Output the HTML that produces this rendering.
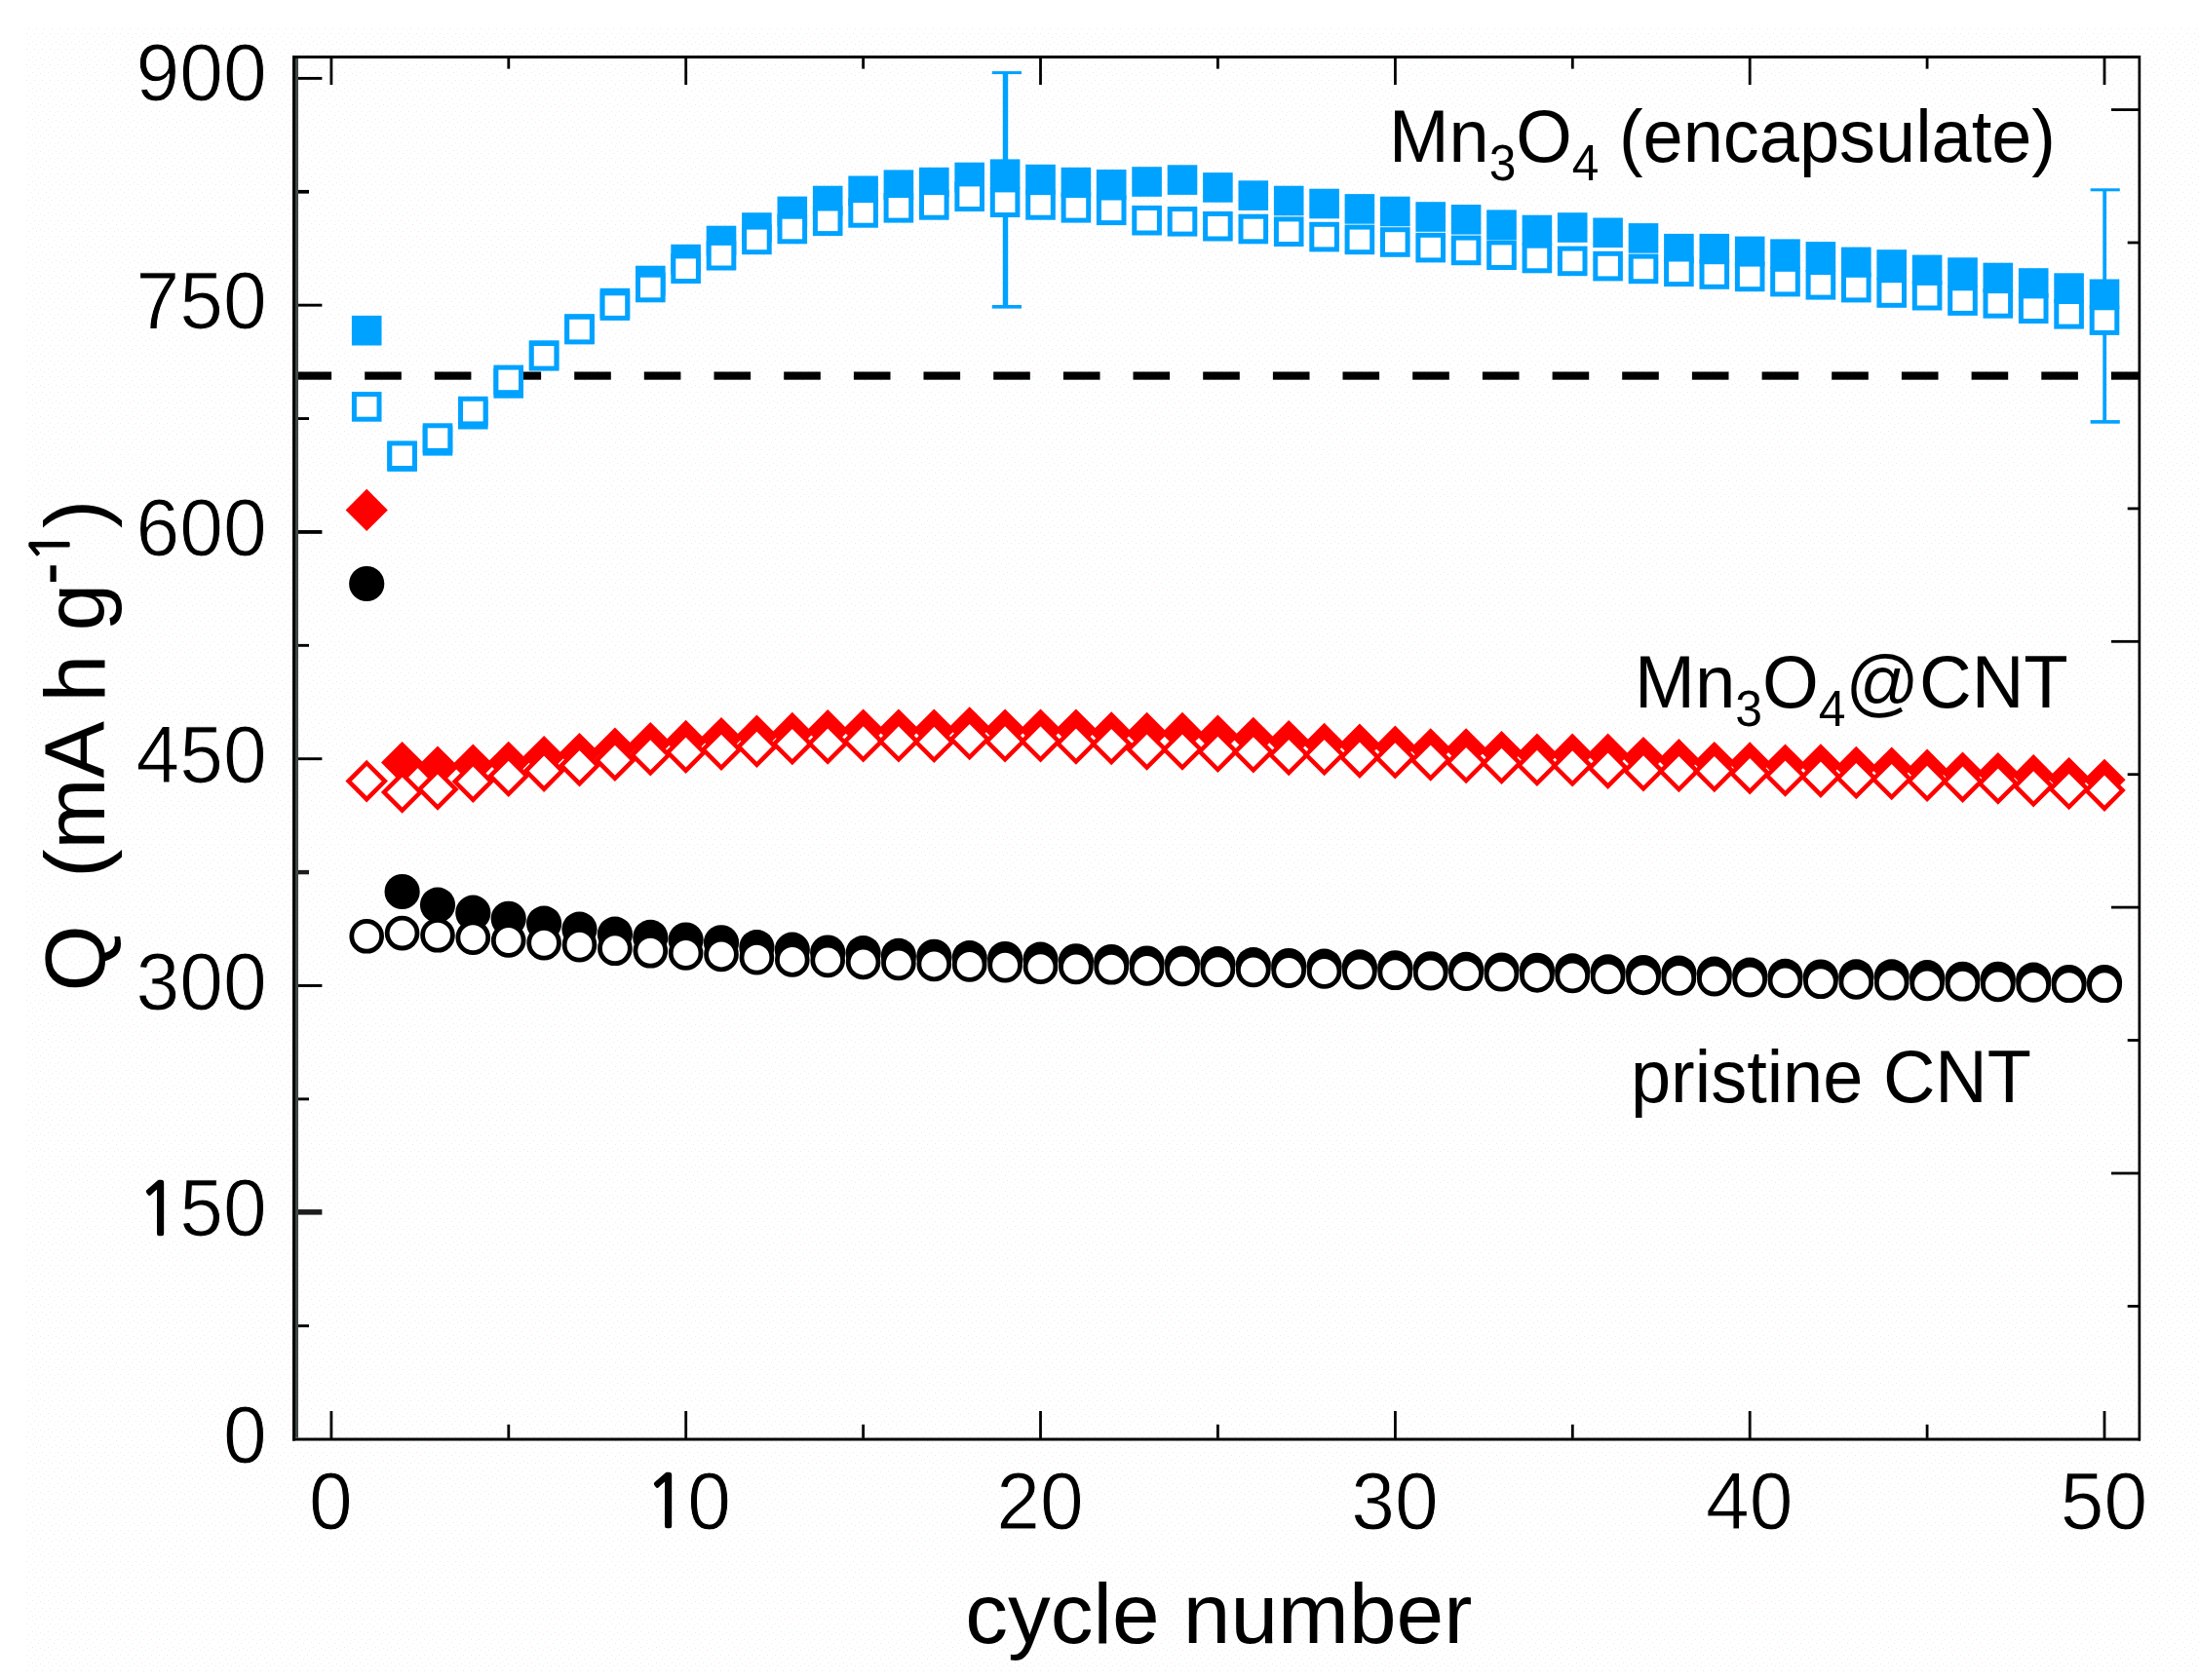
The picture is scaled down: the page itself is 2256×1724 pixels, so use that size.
<!DOCTYPE html>
<html lang="en"><head><meta charset="utf-8"><title>Cycling performance</title>
<style>html,body{margin:0;padding:0;background:#fff}body{width:2256px;height:1724px;overflow:hidden}svg{display:block}text{font-family:"Liberation Sans",Arial,Helvetica,sans-serif;fill:#000}.nan{font-family:"NanumGothic","Liberation Sans",sans-serif}</style></head><body>
<svg width="2256" height="1724" viewBox="0 0 2256 1724">
<defs><pattern id="dz" x="27" y="29" width="16" height="16" patternUnits="userSpaceOnUse"><rect x="2" y="0" width="1" height="1" fill="#f9e6e6"/><rect x="10" y="0" width="1" height="1" fill="#f9e6e6"/><rect x="6" y="2" width="1" height="1" fill="#e0ffff"/><rect x="0" y="5" width="1" height="1" fill="#f9e6e6"/><rect x="8" y="5" width="1" height="1" fill="#f9e6e6"/><rect x="13" y="6" width="1" height="1" fill="#e0ffff"/><rect x="4" y="8" width="1" height="1" fill="#f9e6e6"/><rect x="12" y="9" width="1" height="1" fill="#f9e6e6"/><rect x="1" y="11" width="1" height="1" fill="#e0ffff"/><rect x="9" y="12" width="1" height="1" fill="#e0ffff"/><rect x="6" y="13" width="1" height="1" fill="#f9e6e6"/><rect x="14" y="14" width="1" height="1" fill="#f9e6e6"/></pattern></defs>
<rect x="0" y="0" width="2256" height="1724" fill="#ffffff"/>
<rect x="27" y="29" width="2229" height="1686" fill="url(#dz)"/>
<g id="refline" fill="#000">
<rect x="302.5" y="381.5" width="37.6" height="8.2"/>
<rect x="374.2" y="381.5" width="37.6" height="8.2"/>
<rect x="445.8" y="381.5" width="37.6" height="8.2"/>
<rect x="517.5" y="381.5" width="37.6" height="8.2"/>
<rect x="589.2" y="381.5" width="37.6" height="8.2"/>
<rect x="660.8" y="381.5" width="37.6" height="8.2"/>
<rect x="732.5" y="381.5" width="37.6" height="8.2"/>
<rect x="804.2" y="381.5" width="37.6" height="8.2"/>
<rect x="875.9" y="381.5" width="37.6" height="8.2"/>
<rect x="947.5" y="381.5" width="37.6" height="8.2"/>
<rect x="1019.2" y="381.5" width="37.6" height="8.2"/>
<rect x="1090.9" y="381.5" width="37.6" height="8.2"/>
<rect x="1162.5" y="381.5" width="37.6" height="8.2"/>
<rect x="1234.2" y="381.5" width="37.6" height="8.2"/>
<rect x="1305.9" y="381.5" width="37.6" height="8.2"/>
<rect x="1377.5" y="381.5" width="37.6" height="8.2"/>
<rect x="1449.2" y="381.5" width="37.6" height="8.2"/>
<rect x="1520.9" y="381.5" width="37.6" height="8.2"/>
<rect x="1592.6" y="381.5" width="37.6" height="8.2"/>
<rect x="1664.2" y="381.5" width="37.6" height="8.2"/>
<rect x="1735.9" y="381.5" width="37.6" height="8.2"/>
<rect x="1807.6" y="381.5" width="37.6" height="8.2"/>
<rect x="1879.2" y="381.5" width="37.6" height="8.2"/>
<rect x="1950.9" y="381.5" width="37.6" height="8.2"/>
<rect x="2022.6" y="381.5" width="37.6" height="8.2"/>
<rect x="2094.3" y="381.5" width="37.6" height="8.2"/>
<rect x="2165.9" y="381.5" width="28.1" height="8.2"/>
</g>
<g id="cnt-filled" fill="#000">
<circle cx="376.2" cy="599.0" r="18.1"/>
<circle cx="412.6" cy="915.0" r="18.1"/>
<circle cx="449.0" cy="928.6" r="18.1"/>
<circle cx="485.3" cy="936.7" r="18.1"/>
<circle cx="521.7" cy="942.8" r="18.1"/>
<circle cx="558.1" cy="947.6" r="18.1"/>
<circle cx="594.5" cy="953.6" r="18.1"/>
<circle cx="630.9" cy="958.6" r="18.1"/>
<circle cx="667.3" cy="961.9" r="18.1"/>
<circle cx="703.6" cy="964.5" r="18.1"/>
<circle cx="740.0" cy="967.3" r="18.1"/>
<circle cx="776.4" cy="972.1" r="18.1"/>
<circle cx="812.8" cy="974.7" r="18.1"/>
<circle cx="849.2" cy="977.5" r="18.1"/>
<circle cx="885.6" cy="978.1" r="18.1"/>
<circle cx="921.9" cy="980.9" r="18.1"/>
<circle cx="958.3" cy="981.8" r="18.1"/>
<circle cx="994.7" cy="983.1" r="18.1"/>
<circle cx="1031.1" cy="984.0" r="18.1"/>
<circle cx="1067.5" cy="984.6" r="18.1"/>
<circle cx="1103.9" cy="986.3" r="18.1"/>
<circle cx="1140.2" cy="987.0" r="18.1"/>
<circle cx="1176.6" cy="988.5" r="18.1"/>
<circle cx="1213.0" cy="988.5" r="18.1"/>
<circle cx="1249.4" cy="989.2" r="18.1"/>
<circle cx="1285.8" cy="990.1" r="18.1"/>
<circle cx="1322.2" cy="991.0" r="18.1"/>
<circle cx="1358.6" cy="991.6" r="18.1"/>
<circle cx="1394.9" cy="992.4" r="18.1"/>
<circle cx="1431.3" cy="993.3" r="18.1"/>
<circle cx="1467.7" cy="994.3" r="18.1"/>
<circle cx="1504.1" cy="994.9" r="18.1"/>
<circle cx="1540.5" cy="995.5" r="18.1"/>
<circle cx="1576.9" cy="995.8" r="18.1"/>
<circle cx="1613.2" cy="996.4" r="18.1"/>
<circle cx="1649.6" cy="997.4" r="18.1"/>
<circle cx="1686.0" cy="998.0" r="18.1"/>
<circle cx="1722.4" cy="998.6" r="18.1"/>
<circle cx="1758.8" cy="999.7" r="18.1"/>
<circle cx="1795.2" cy="1000.6" r="18.1"/>
<circle cx="1831.5" cy="1001.9" r="18.1"/>
<circle cx="1867.9" cy="1002.5" r="18.1"/>
<circle cx="1904.3" cy="1002.4" r="18.1"/>
<circle cx="1940.7" cy="1002.4" r="18.1"/>
<circle cx="1977.1" cy="1003.2" r="18.1"/>
<circle cx="2013.5" cy="1004.8" r="18.1"/>
<circle cx="2049.8" cy="1004.8" r="18.1"/>
<circle cx="2086.2" cy="1005.6" r="18.1"/>
<circle cx="2122.6" cy="1008.0" r="18.1"/>
<circle cx="2159.0" cy="1008.0" r="18.1"/>
</g><g id="cnt-open" fill="#fff" stroke="#000" stroke-width="4.8">
<circle cx="376.2" cy="960.8" r="15.4"/>
<circle cx="412.6" cy="957.6" r="15.4"/>
<circle cx="449.0" cy="959.8" r="15.4"/>
<circle cx="485.3" cy="962.2" r="15.4"/>
<circle cx="521.7" cy="965.0" r="15.4"/>
<circle cx="558.1" cy="967.7" r="15.4"/>
<circle cx="594.5" cy="969.7" r="15.4"/>
<circle cx="630.9" cy="973.3" r="15.4"/>
<circle cx="667.3" cy="975.8" r="15.4"/>
<circle cx="703.6" cy="978.0" r="15.4"/>
<circle cx="740.0" cy="979.4" r="15.4"/>
<circle cx="776.4" cy="982.7" r="15.4"/>
<circle cx="812.8" cy="984.9" r="15.4"/>
<circle cx="849.2" cy="985.5" r="15.4"/>
<circle cx="885.6" cy="987.4" r="15.4"/>
<circle cx="921.9" cy="988.5" r="15.4"/>
<circle cx="958.3" cy="989.4" r="15.4"/>
<circle cx="994.7" cy="990.0" r="15.4"/>
<circle cx="1031.1" cy="990.7" r="15.4"/>
<circle cx="1067.5" cy="992.2" r="15.4"/>
<circle cx="1103.9" cy="992.5" r="15.4"/>
<circle cx="1140.2" cy="992.8" r="15.4"/>
<circle cx="1176.6" cy="993.9" r="15.4"/>
<circle cx="1213.0" cy="994.5" r="15.4"/>
<circle cx="1249.4" cy="995.2" r="15.4"/>
<circle cx="1285.8" cy="995.5" r="15.4"/>
<circle cx="1322.2" cy="996.1" r="15.4"/>
<circle cx="1358.6" cy="997.0" r="15.4"/>
<circle cx="1394.9" cy="997.6" r="15.4"/>
<circle cx="1431.3" cy="998.3" r="15.4"/>
<circle cx="1467.7" cy="998.6" r="15.4"/>
<circle cx="1504.1" cy="999.2" r="15.4"/>
<circle cx="1540.5" cy="999.8" r="15.4"/>
<circle cx="1576.9" cy="1000.9" r="15.4"/>
<circle cx="1613.2" cy="1001.5" r="15.4"/>
<circle cx="1649.6" cy="1002.5" r="15.4"/>
<circle cx="1686.0" cy="1003.4" r="15.4"/>
<circle cx="1722.4" cy="1004.0" r="15.4"/>
<circle cx="1758.8" cy="1004.6" r="15.4"/>
<circle cx="1795.2" cy="1005.6" r="15.4"/>
<circle cx="1831.5" cy="1006.5" r="15.4"/>
<circle cx="1867.9" cy="1007.3" r="15.4"/>
<circle cx="1904.3" cy="1007.9" r="15.4"/>
<circle cx="1940.7" cy="1008.8" r="15.4"/>
<circle cx="1977.1" cy="1009.4" r="15.4"/>
<circle cx="2013.5" cy="1009.8" r="15.4"/>
<circle cx="2049.8" cy="1010.4" r="15.4"/>
<circle cx="2086.2" cy="1011.0" r="15.4"/>
<circle cx="2122.6" cy="1011.3" r="15.4"/>
<circle cx="2159.0" cy="1011.3" r="15.4"/>
</g>
<g id="mn-cnt-filled" fill="#ff0000">
<path d="M376.2 501.8L397.8 523.4L376.2 545.0L354.6 523.4Z"/>
<path d="M412.6 761.0L434.2 782.6L412.6 804.2L391.0 782.6Z"/>
<path d="M449.0 765.5L470.6 787.1L449.0 808.7L427.4 787.1Z"/>
<path d="M485.3 763.4L506.9 785.0L485.3 806.6L463.7 785.0Z"/>
<path d="M521.7 760.7L543.3 782.3L521.7 803.9L500.1 782.3Z"/>
<path d="M558.1 755.0L579.7 776.6L558.1 798.2L536.5 776.6Z"/>
<path d="M594.5 751.9L616.1 773.5L594.5 795.1L572.9 773.5Z"/>
<path d="M630.9 746.4L652.5 768.0L630.9 789.6L609.3 768.0Z"/>
<path d="M667.3 741.0L688.9 762.6L667.3 784.2L645.7 762.6Z"/>
<path d="M703.6 738.8L725.2 760.4L703.6 782.0L682.0 760.4Z"/>
<path d="M740.0 735.9L761.6 757.5L740.0 779.1L718.4 757.5Z"/>
<path d="M776.4 733.5L798.0 755.1L776.4 776.7L754.8 755.1Z"/>
<path d="M812.8 730.8L834.4 752.4L812.8 774.0L791.2 752.4Z"/>
<path d="M849.2 728.1L870.8 749.7L849.2 771.3L827.6 749.7Z"/>
<path d="M885.6 727.5L907.2 749.1L885.6 770.7L864.0 749.1Z"/>
<path d="M921.9 727.5L943.5 749.1L921.9 770.7L900.3 749.1Z"/>
<path d="M958.3 727.5L979.9 749.1L958.3 770.7L936.7 749.1Z"/>
<path d="M994.7 725.2L1016.3 746.8L994.7 768.4L973.1 746.8Z"/>
<path d="M1031.1 727.5L1052.7 749.1L1031.1 770.7L1009.5 749.1Z"/>
<path d="M1067.5 727.5L1089.1 749.1L1067.5 770.7L1045.9 749.1Z"/>
<path d="M1103.9 727.5L1125.5 749.1L1103.9 770.7L1082.3 749.1Z"/>
<path d="M1140.2 730.3L1161.8 751.9L1140.2 773.5L1118.6 751.9Z"/>
<path d="M1176.6 730.8L1198.2 752.4L1176.6 774.0L1155.0 752.4Z"/>
<path d="M1213.0 730.8L1234.6 752.4L1213.0 774.0L1191.4 752.4Z"/>
<path d="M1249.4 733.5L1271.0 755.1L1249.4 776.7L1227.8 755.1Z"/>
<path d="M1285.8 735.7L1307.4 757.3L1285.8 778.9L1264.2 757.3Z"/>
<path d="M1322.2 739.0L1343.8 760.6L1322.2 782.2L1300.6 760.6Z"/>
<path d="M1358.6 741.8L1380.2 763.4L1358.6 785.0L1337.0 763.4Z"/>
<path d="M1394.9 742.6L1416.5 764.2L1394.9 785.8L1373.3 764.2Z"/>
<path d="M1431.3 744.6L1452.9 766.2L1431.3 787.8L1409.7 766.2Z"/>
<path d="M1467.7 747.2L1489.3 768.8L1467.7 790.4L1446.1 768.8Z"/>
<path d="M1504.1 747.2L1525.7 768.8L1504.1 790.4L1482.5 768.8Z"/>
<path d="M1540.5 750.0L1562.1 771.6L1540.5 793.2L1518.9 771.6Z"/>
<path d="M1576.9 752.6L1598.5 774.2L1576.9 795.8L1555.3 774.2Z"/>
<path d="M1613.2 752.6L1634.8 774.2L1613.2 795.8L1591.6 774.2Z"/>
<path d="M1649.6 752.6L1671.2 774.2L1649.6 795.8L1628.0 774.2Z"/>
<path d="M1686.0 755.9L1707.6 777.5L1686.0 799.1L1664.4 777.5Z"/>
<path d="M1722.4 758.1L1744.0 779.7L1722.4 801.3L1700.8 779.7Z"/>
<path d="M1758.8 760.9L1780.4 782.5L1758.8 804.1L1737.2 782.5Z"/>
<path d="M1795.2 761.3L1816.8 782.9L1795.2 804.5L1773.6 782.9Z"/>
<path d="M1831.5 763.4L1853.1 785.0L1831.5 806.6L1809.9 785.0Z"/>
<path d="M1867.9 763.2L1889.5 784.8L1867.9 806.4L1846.3 784.8Z"/>
<path d="M1904.3 765.8L1925.9 787.4L1904.3 809.0L1882.7 787.4Z"/>
<path d="M1940.7 766.5L1962.3 788.1L1940.7 809.7L1919.1 788.1Z"/>
<path d="M1977.1 768.6L1998.7 790.2L1977.1 811.8L1955.5 790.2Z"/>
<path d="M2013.5 771.4L2035.1 793.0L2013.5 814.6L1991.9 793.0Z"/>
<path d="M2049.8 771.9L2071.4 793.5L2049.8 815.1L2028.2 793.5Z"/>
<path d="M2086.2 774.1L2107.8 795.7L2086.2 817.3L2064.6 795.7Z"/>
<path d="M2122.6 776.9L2144.2 798.5L2122.6 820.1L2101.0 798.5Z"/>
<path d="M2159.0 778.7L2180.6 800.3L2159.0 821.9L2137.4 800.3Z"/>
</g><g id="mn-cnt-open" fill="#fff" stroke="#ff0000" stroke-width="4.5" stroke-linejoin="miter">
<path d="M376.2 783.0L394.8 801.6L376.2 820.2L357.6 801.6Z"/>
<path d="M412.6 794.4L431.2 813.0L412.6 831.6L394.0 813.0Z"/>
<path d="M449.0 791.3L467.6 809.9L449.0 828.5L430.4 809.9Z"/>
<path d="M485.3 783.5L503.9 802.1L485.3 820.7L466.7 802.1Z"/>
<path d="M521.7 777.6L540.3 796.2L521.7 814.8L503.1 796.2Z"/>
<path d="M558.1 772.5L576.7 791.1L558.1 809.7L539.5 791.1Z"/>
<path d="M594.5 767.0L613.1 785.6L594.5 804.2L575.9 785.6Z"/>
<path d="M630.9 761.6L649.5 780.2L630.9 798.8L612.3 780.2Z"/>
<path d="M667.3 756.2L685.9 774.8L667.3 793.4L648.7 774.8Z"/>
<path d="M703.6 753.5L722.2 772.1L703.6 790.7L685.0 772.1Z"/>
<path d="M740.0 750.6L758.6 769.2L740.0 787.8L721.4 769.2Z"/>
<path d="M776.4 747.6L795.0 766.2L776.4 784.8L757.8 766.2Z"/>
<path d="M812.8 744.8L831.4 763.4L812.8 782.0L794.2 763.4Z"/>
<path d="M849.2 744.4L867.8 763.0L849.2 781.6L830.6 763.0Z"/>
<path d="M885.6 742.2L904.2 760.8L885.6 779.4L867.0 760.8Z"/>
<path d="M921.9 742.2L940.5 760.8L921.9 779.4L903.3 760.8Z"/>
<path d="M958.3 742.7L976.9 761.3L958.3 779.9L939.7 761.3Z"/>
<path d="M994.7 739.9L1013.3 758.5L994.7 777.1L976.1 758.5Z"/>
<path d="M1031.1 742.2L1049.7 760.8L1031.1 779.4L1012.5 760.8Z"/>
<path d="M1067.5 742.2L1086.1 760.8L1067.5 779.4L1048.9 760.8Z"/>
<path d="M1103.9 744.4L1122.5 763.0L1103.9 781.6L1085.3 763.0Z"/>
<path d="M1140.2 744.8L1158.8 763.4L1140.2 782.0L1121.6 763.4Z"/>
<path d="M1176.6 750.4L1195.2 769.0L1176.6 787.6L1158.0 769.0Z"/>
<path d="M1213.0 750.4L1231.6 769.0L1213.0 787.6L1194.4 769.0Z"/>
<path d="M1249.4 752.6L1268.0 771.2L1249.4 789.8L1230.8 771.2Z"/>
<path d="M1285.8 753.1L1304.4 771.7L1285.8 790.3L1267.2 771.7Z"/>
<path d="M1322.2 755.9L1340.8 774.5L1322.2 793.1L1303.6 774.5Z"/>
<path d="M1358.6 755.9L1377.2 774.5L1358.6 793.1L1340.0 774.5Z"/>
<path d="M1394.9 758.5L1413.5 777.1L1394.9 795.7L1376.3 777.1Z"/>
<path d="M1431.3 759.1L1449.9 777.7L1431.3 796.3L1412.7 777.7Z"/>
<path d="M1467.7 761.3L1486.3 779.9L1467.7 798.5L1449.1 779.9Z"/>
<path d="M1504.1 763.9L1522.7 782.5L1504.1 801.1L1485.5 782.5Z"/>
<path d="M1540.5 764.6L1559.1 783.2L1540.5 801.8L1521.9 783.2Z"/>
<path d="M1576.9 766.7L1595.5 785.3L1576.9 803.9L1558.3 785.3Z"/>
<path d="M1613.2 767.2L1631.8 785.8L1613.2 804.4L1594.6 785.8Z"/>
<path d="M1649.6 769.5L1668.2 788.1L1649.6 806.7L1631.0 788.1Z"/>
<path d="M1686.0 772.2L1704.6 790.8L1686.0 809.4L1667.4 790.8Z"/>
<path d="M1722.4 772.8L1741.0 791.4L1722.4 810.0L1703.8 791.4Z"/>
<path d="M1758.8 772.8L1777.4 791.4L1758.8 810.0L1740.2 791.4Z"/>
<path d="M1795.2 775.0L1813.8 793.6L1795.2 812.2L1776.6 793.6Z"/>
<path d="M1831.5 777.4L1850.1 796.0L1831.5 814.6L1812.9 796.0Z"/>
<path d="M1867.9 778.5L1886.5 797.1L1867.9 815.7L1849.3 797.1Z"/>
<path d="M1904.3 779.9L1922.9 798.5L1904.3 817.1L1885.7 798.5Z"/>
<path d="M1940.7 780.9L1959.3 799.5L1940.7 818.1L1922.1 799.5Z"/>
<path d="M1977.1 782.7L1995.7 801.3L1977.1 819.9L1958.5 801.3Z"/>
<path d="M2013.5 783.5L2032.1 802.1L2013.5 820.7L1994.9 802.1Z"/>
<path d="M2049.8 785.4L2068.4 804.0L2049.8 822.6L2031.2 804.0Z"/>
<path d="M2086.2 788.1L2104.8 806.7L2086.2 825.3L2067.6 806.7Z"/>
<path d="M2122.6 790.9L2141.2 809.5L2122.6 828.1L2104.0 809.5Z"/>
<path d="M2159.0 792.5L2177.6 811.1L2159.0 829.7L2140.4 811.1Z"/>
</g>
<g id="errbars" fill="#00a2ff">
<rect x="1028.8" y="74.6" width="5.4" height="240.2"/>
<rect x="1017.8" y="73.1" width="30.2" height="3.0"/>
<rect x="1017.8" y="313.0" width="30.2" height="3.6"/>
<rect x="2157.3" y="194.8" width="3.8" height="238.1"/>
<rect x="2144.6" y="193.3" width="30.2" height="3.0"/>
<rect x="2144.6" y="431.1" width="30.2" height="3.6"/>
</g>
<g id="enc-filled" fill="#00a2ff">
<rect x="360.9" y="323.9" width="30.6" height="30.6"/>
<rect x="397.3" y="453.3" width="30.6" height="30.6"/>
<rect x="433.7" y="437.0" width="30.6" height="30.6"/>
<rect x="470.0" y="409.9" width="30.6" height="30.6"/>
<rect x="506.4" y="378.1" width="30.6" height="30.6"/>
<rect x="542.8" y="349.3" width="30.6" height="30.6"/>
<rect x="579.2" y="322.2" width="30.6" height="30.6"/>
<rect x="615.6" y="295.8" width="30.6" height="30.6"/>
<rect x="652.0" y="272.7" width="30.6" height="30.6"/>
<rect x="688.3" y="250.8" width="30.6" height="30.6"/>
<rect x="724.7" y="231.7" width="30.6" height="30.6"/>
<rect x="761.1" y="218.2" width="30.6" height="30.6"/>
<rect x="797.5" y="201.6" width="30.6" height="30.6"/>
<rect x="833.9" y="190.7" width="30.6" height="30.6"/>
<rect x="870.3" y="180.5" width="30.6" height="30.6"/>
<rect x="906.6" y="174.4" width="30.6" height="30.6"/>
<rect x="943.0" y="171.8" width="30.6" height="30.6"/>
<rect x="979.4" y="166.7" width="30.6" height="30.6"/>
<rect x="1015.8" y="163.4" width="30.6" height="30.6"/>
<rect x="1052.2" y="168.8" width="30.6" height="30.6"/>
<rect x="1088.6" y="171.8" width="30.6" height="30.6"/>
<rect x="1124.9" y="174.0" width="30.6" height="30.6"/>
<rect x="1161.3" y="171.2" width="30.6" height="30.6"/>
<rect x="1197.7" y="169.3" width="30.6" height="30.6"/>
<rect x="1234.1" y="177.1" width="30.6" height="30.6"/>
<rect x="1270.5" y="185.3" width="30.6" height="30.6"/>
<rect x="1306.9" y="190.7" width="30.6" height="30.6"/>
<rect x="1343.3" y="193.7" width="30.6" height="30.6"/>
<rect x="1379.6" y="199.1" width="30.6" height="30.6"/>
<rect x="1416.0" y="201.7" width="30.6" height="30.6"/>
<rect x="1452.4" y="207.2" width="30.6" height="30.6"/>
<rect x="1488.8" y="210.0" width="30.6" height="30.6"/>
<rect x="1525.2" y="215.4" width="30.6" height="30.6"/>
<rect x="1561.6" y="220.7" width="30.6" height="30.6"/>
<rect x="1597.9" y="218.2" width="30.6" height="30.6"/>
<rect x="1634.3" y="223.5" width="30.6" height="30.6"/>
<rect x="1670.7" y="229.1" width="30.6" height="30.6"/>
<rect x="1707.1" y="239.9" width="30.6" height="30.6"/>
<rect x="1743.5" y="239.9" width="30.6" height="30.6"/>
<rect x="1779.9" y="242.6" width="30.6" height="30.6"/>
<rect x="1816.2" y="245.4" width="30.6" height="30.6"/>
<rect x="1852.6" y="248.1" width="30.6" height="30.6"/>
<rect x="1889.0" y="253.6" width="30.6" height="30.6"/>
<rect x="1925.4" y="256.2" width="30.6" height="30.6"/>
<rect x="1961.8" y="261.6" width="30.6" height="30.6"/>
<rect x="1998.2" y="264.3" width="30.6" height="30.6"/>
<rect x="2034.5" y="269.7" width="30.6" height="30.6"/>
<rect x="2070.9" y="275.2" width="30.6" height="30.6"/>
<rect x="2107.3" y="280.3" width="30.6" height="30.6"/>
<rect x="2143.7" y="286.5" width="30.6" height="30.6"/>
</g><g id="enc-open" fill="#fff" stroke="#00a2ff" stroke-width="5.0">
<rect x="363.4" y="404.6" width="25.6" height="25.6"/>
<rect x="399.8" y="454.9" width="25.6" height="25.6"/>
<rect x="436.2" y="436.8" width="25.6" height="25.6"/>
<rect x="472.5" y="409.3" width="25.6" height="25.6"/>
<rect x="508.9" y="377.1" width="25.6" height="25.6"/>
<rect x="545.3" y="352.5" width="25.6" height="25.6"/>
<rect x="581.7" y="325.3" width="25.6" height="25.6"/>
<rect x="618.1" y="300.8" width="25.6" height="25.6"/>
<rect x="654.5" y="282.2" width="25.6" height="25.6"/>
<rect x="690.8" y="262.9" width="25.6" height="25.6"/>
<rect x="727.2" y="249.4" width="25.6" height="25.6"/>
<rect x="763.6" y="233.1" width="25.6" height="25.6"/>
<rect x="800.0" y="222.2" width="25.6" height="25.6"/>
<rect x="836.4" y="214.0" width="25.6" height="25.6"/>
<rect x="872.8" y="205.6" width="25.6" height="25.6"/>
<rect x="909.1" y="200.5" width="25.6" height="25.6"/>
<rect x="945.5" y="197.6" width="25.6" height="25.6"/>
<rect x="981.9" y="188.9" width="25.6" height="25.6"/>
<rect x="1018.3" y="194.9" width="25.6" height="25.6"/>
<rect x="1054.7" y="197.6" width="25.6" height="25.6"/>
<rect x="1091.1" y="200.5" width="25.6" height="25.6"/>
<rect x="1127.4" y="203.0" width="25.6" height="25.6"/>
<rect x="1163.8" y="213.4" width="25.6" height="25.6"/>
<rect x="1200.2" y="214.5" width="25.6" height="25.6"/>
<rect x="1236.6" y="219.4" width="25.6" height="25.6"/>
<rect x="1273.0" y="222.2" width="25.6" height="25.6"/>
<rect x="1309.4" y="224.9" width="25.6" height="25.6"/>
<rect x="1345.8" y="230.3" width="25.6" height="25.6"/>
<rect x="1382.1" y="233.1" width="25.6" height="25.6"/>
<rect x="1418.5" y="235.7" width="25.6" height="25.6"/>
<rect x="1454.9" y="241.3" width="25.6" height="25.6"/>
<rect x="1491.3" y="244.1" width="25.6" height="25.6"/>
<rect x="1527.7" y="248.9" width="25.6" height="25.6"/>
<rect x="1564.1" y="252.2" width="25.6" height="25.6"/>
<rect x="1600.4" y="255.1" width="25.6" height="25.6"/>
<rect x="1636.8" y="260.3" width="25.6" height="25.6"/>
<rect x="1673.2" y="263.1" width="25.6" height="25.6"/>
<rect x="1709.6" y="266.0" width="25.6" height="25.6"/>
<rect x="1746.0" y="268.7" width="25.6" height="25.6"/>
<rect x="1782.4" y="271.1" width="25.6" height="25.6"/>
<rect x="1818.7" y="276.3" width="25.6" height="25.6"/>
<rect x="1855.1" y="279.5" width="25.6" height="25.6"/>
<rect x="1891.5" y="282.3" width="25.6" height="25.6"/>
<rect x="1927.9" y="287.7" width="25.6" height="25.6"/>
<rect x="1964.3" y="290.4" width="25.6" height="25.6"/>
<rect x="2000.7" y="295.8" width="25.6" height="25.6"/>
<rect x="2037.0" y="298.6" width="25.6" height="25.6"/>
<rect x="2073.4" y="303.9" width="25.6" height="25.6"/>
<rect x="2109.8" y="309.5" width="25.6" height="25.6"/>
<rect x="2146.2" y="315.8" width="25.6" height="25.6"/>
</g>
<g id="axes" fill="#000">
<rect x="300" y="57" width="1896" height="3"/>
<rect x="300" y="1475.5" width="1896" height="3"/>
<rect x="2193.5" y="57" width="2.7" height="1421.5"/>
<rect x="300" y="57" width="3" height="1421.5"/>
<rect x="303" y="60" width="3" height="1415.5" fill="#3c4a42"/>
<rect x="306" y="1359.17" width="11" height="2.9"/>
<rect x="306" y="1241.10" width="24.4" height="5.5" fill="#1c1c1c"/>
<rect x="306" y="1126.40" width="11" height="2.9"/>
<rect x="306" y="1010.02" width="24.4" height="2.9"/>
<rect x="306" y="892.88" width="11" height="4.4" fill="#1c1c1c"/>
<rect x="306" y="777.25" width="24.4" height="2.9"/>
<rect x="306" y="660.87" width="11" height="2.9"/>
<rect x="306" y="544.03" width="24.4" height="3.8"/>
<rect x="306" y="428.10" width="11" height="2.9"/>
<rect x="306" y="311.72" width="24.4" height="2.9"/>
<rect x="306" y="194.93" width="11" height="3.7"/>
<rect x="306" y="78.95" width="24.4" height="2.9"/>
<rect x="338.5" y="1448" width="2.8" height="28"/>
<rect x="338.5" y="59" width="2.8" height="28"/>
<rect x="520.4" y="1461.8" width="2.8" height="14"/>
<rect x="520.4" y="59" width="2.8" height="11.6"/>
<rect x="702.3" y="1448" width="2.8" height="28"/>
<rect x="702.3" y="59" width="2.8" height="28"/>
<rect x="884.2" y="1461.8" width="2.8" height="14"/>
<rect x="884.2" y="59" width="2.8" height="11.6"/>
<rect x="1066.1" y="1448" width="2.8" height="28"/>
<rect x="1066.1" y="59" width="2.8" height="28"/>
<rect x="1248.0" y="1461.8" width="2.8" height="14"/>
<rect x="1248.0" y="59" width="2.8" height="11.6"/>
<rect x="1430.0" y="1448" width="2.8" height="28"/>
<rect x="1430.0" y="59" width="2.8" height="28"/>
<rect x="1611.9" y="1461.8" width="2.8" height="14"/>
<rect x="1611.9" y="59" width="2.8" height="11.6"/>
<rect x="1793.8" y="1448" width="2.8" height="28"/>
<rect x="1793.8" y="59" width="2.8" height="28"/>
<rect x="1975.7" y="1461.8" width="2.8" height="14"/>
<rect x="1975.7" y="59" width="2.8" height="11.6"/>
<rect x="2157.6" y="1448" width="2.8" height="28"/>
<rect x="2157.6" y="59" width="2.8" height="28"/>
<rect x="2182.7" y="1339.0" width="11.3" height="2.8"/>
<rect x="2166.0" y="1202.6" width="28" height="2.8"/>
<rect x="2182.7" y="1066.1" width="11.3" height="2.8"/>
<rect x="2166.0" y="929.7" width="28" height="2.8"/>
<rect x="2182.7" y="793.3" width="11.3" height="2.8"/>
<rect x="2166.0" y="656.9" width="28" height="2.8"/>
<rect x="2182.7" y="520.5" width="11.3" height="2.8"/>
<rect x="2166.0" y="384.0" width="28" height="2.8"/>
<rect x="2182.7" y="247.6" width="11.3" height="2.8"/>
<rect x="2166.0" y="111.2" width="28" height="2.8"/>
</g>
<g id="ylabels" font-size="83.2" stroke="#fff" stroke-width="1.0">
<text transform="translate(273.6,1501.0) scale(0.966,1)" text-anchor="end">0</text>
<text transform="scale(0.966,1)"><tspan class="nan" x="146.1" y="1266.6" font-size="73" stroke="#000" stroke-width="2.4">1</tspan><tspan x="190.7" y="1268.2">50</tspan></text>
<text transform="translate(273.6,1035.5) scale(0.966,1)" text-anchor="end">300</text>
<text transform="translate(273.6,802.7) scale(0.966,1)" text-anchor="end">450</text>
<text transform="translate(273.6,569.9) scale(0.966,1)" text-anchor="end">600</text>
<text transform="translate(273.6,337.2) scale(0.966,1)" text-anchor="end">750</text>
<text transform="translate(273.6,103.0) scale(0.966,1)" text-anchor="end">900</text>
</g><g id="xlabels" font-size="83.2" text-anchor="middle" stroke="#fff" stroke-width="1.0">
<text transform="translate(339.4,1568.9) scale(0.966,1)">0</text>
<text transform="scale(0.966,1)" text-anchor="start"><tspan class="nan" x="685.2" y="1566.9" font-size="73" stroke="#000" stroke-width="2.4">1</tspan><tspan x="730.2" y="1568.9">0</tspan></text>
<text transform="translate(1067.0,1568.9) scale(0.966,1)">20</text>
<text transform="translate(1430.9,1568.9) scale(0.966,1)">30</text>
<text transform="translate(1794.7,1568.9) scale(0.966,1)">40</text>
<text transform="translate(2158.5,1568.9) scale(0.966,1)">50</text>
</g>
<text transform="translate(1250.3,1685.6) scale(1.010,1)" font-size="86.6" text-anchor="middle">cycle number</text>
<text id="ytitle" transform="translate(107,1017.5) rotate(-90) scale(1.007,1)" font-size="87">Q&#160;&#160;(mA h g<tspan x="415.5" y="-35.6" font-size="62" stroke="#000" stroke-width="1.5">-</tspan><tspan class="nan" x="436.6" y="-36.5" font-size="56.3" stroke="#000" stroke-width="1.4">1</tspan><tspan x="472.2" y="0">)</tspan></text>
<text transform="translate(1425,165.7) scale(0.973,1)" font-size="76">Mn<tspan font-size="51" dy="19.5">3</tspan><tspan dy="-19.5">O</tspan><tspan font-size="51" dy="19.5">4</tspan><tspan dy="-19.5"> (encapsulate)</tspan></text>
<text transform="translate(1677,725.7) scale(0.978,1)" font-size="76">Mn<tspan font-size="51" dy="19">3</tspan><tspan dy="-19">O</tspan><tspan font-size="51" dy="19">4</tspan><tspan dy="-19">@CNT</tspan></text>
<text transform="translate(1673,1131.4) scale(0.973,1)" font-size="76">pristine CNT</text>
</svg></body></html>
